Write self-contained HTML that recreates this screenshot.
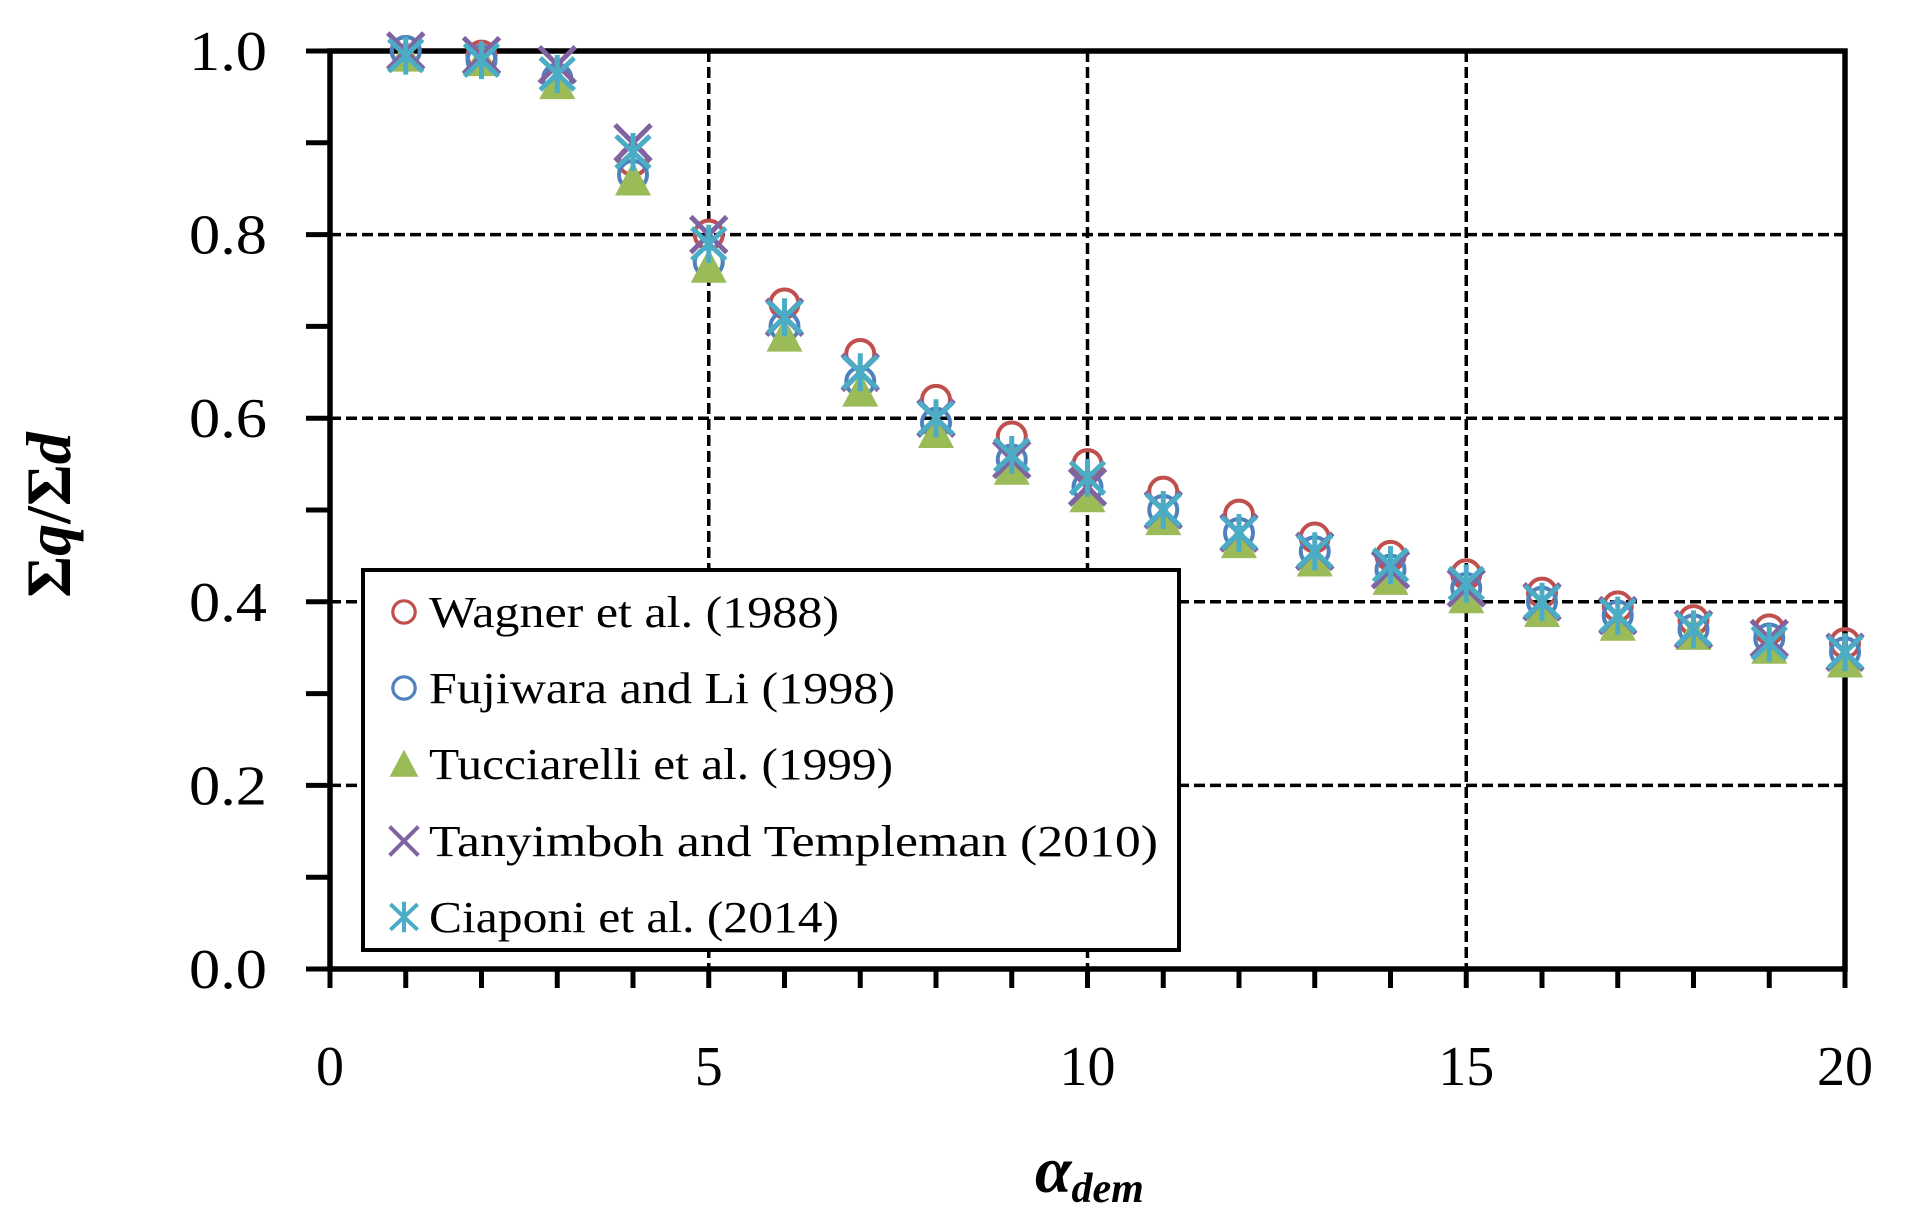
<!DOCTYPE html>
<html><head><meta charset="utf-8"><style>
html,body{margin:0;padding:0;background:#fff;}
svg{display:block;}
text{font-family:"Liberation Serif",serif;fill:#000;}
</style></head><body>
<svg id="chart" width="1912" height="1227" viewBox="0 0 1912 1227" xmlns="http://www.w3.org/2000/svg">
<g id="grid"></g>
<g id="axes"></g>
<g id="marks"></g>
<g id="legend"></g>
<text x="1035" y="1192" font-size="66" font-weight="bold" font-style="italic">α<tspan font-size="42" dy="10">dem</tspan></text>
<text transform="translate(70,515) rotate(-90)" text-anchor="middle" font-size="64" font-weight="bold"><tspan>Σ</tspan><tspan font-style="italic">q</tspan><tspan>/Σ</tspan><tspan font-style="italic">d</tspan></text>
</svg>
<script>
const categories = [1,2,3,4,5,6,7,8,9,10,11,12,13,14,15,16,17,18,19,20];
const wagner = [1.0,0.995,0.97,0.88,0.80,0.725,0.67,0.62,0.58,0.55,0.52,0.495,0.47,0.45,0.43,0.41,0.395,0.38,0.37,0.355];
const fujiwara = [1.0,0.99,0.97,0.865,0.77,0.70,0.64,0.595,0.555,0.525,0.50,0.475,0.455,0.435,0.415,0.40,0.385,0.37,0.36,0.345];
const tucciarelli = [0.995,0.99,0.965,0.86,0.765,0.69,0.63,0.585,0.545,0.515,0.49,0.465,0.445,0.425,0.405,0.39,0.375,0.365,0.35,0.335];
const tanyimboh = [1.0,0.995,0.985,0.90,0.80,0.71,0.65,0.60,0.555,0.525,0.50,0.475,0.455,0.435,0.415,0.40,0.385,0.37,0.36,0.345];
const ciaponi = [0.995,0.99,0.975,0.89,0.79,0.71,0.65,0.60,0.56,0.535,0.50,0.475,0.455,0.44,0.42,0.40,0.385,0.37,0.355,0.345];
const seriesNames = ["Wagner et al. (1988)","Fujiwara and Li (1998)","Tucciarelli et al. (1999)","Tanyimboh and Templeman (2010)","Ciaponi et al. (2014)"];
const xTicks = [0,5,10,15,20];
const yTicks = [0.0,0.2,0.4,0.6,0.8,1.0];

const X0=330,X1=1845,Y0=969,Y1=51;
function xs(v){return X0+(v-0)/(20-0)*(X1-X0);}
function ys(v){return Y0-(v-0)/(1-0)*(Y0-Y1);}
const NS="http://www.w3.org/2000/svg";
function mk(tag,attrs,parent){const e=document.createElementNS(NS,tag);for(const k in attrs)e.setAttribute(k,attrs[k]);parent.appendChild(e);return e;}
const grid=document.getElementById('grid'),axes=document.getElementById('axes'),marks=document.getElementById('marks'),legend=document.getElementById('legend');

yTicks.forEach(v=>{
  if(v>0&&v<1){const l=mk('line',{x1:X0,x2:X1,y1:ys(v),y2:ys(v),stroke:'#000','stroke-width':3.5,'stroke-dasharray':'11 5'},grid);
  
  }
  const t=mk('text',{x:267,y:ys(v)+19,'text-anchor':'end','font-size':56,textLength:78,lengthAdjust:'spacingAndGlyphs'},axes);t.textContent=v.toFixed(1);
  
  
});
xTicks.forEach(v=>{
  if(v>0&&v<20){const l=mk('line',{x1:xs(v),x2:xs(v),y1:Y1,y2:Y0,stroke:'#000','stroke-width':3.5,'stroke-dasharray':'11 5'},grid);
  
  }
  const t=mk('text',{x:xs(v),y:1085,'text-anchor':'middle','font-size':56},axes);t.textContent=v;
  
  
});
for(let i=0;i<=10;i++){const y=ys(i/10);const l=mk('line',{x1:306,x2:X0,y1:y,y2:y,stroke:'#000','stroke-width':5},axes);
  
  }
for(let i=0;i<=20;i++){const x=xs(i);const l=mk('line',{x1:x,x2:x,y1:Y0,y2:988,stroke:'#000','stroke-width':5},axes);
  
  }
const frame=mk('rect',{x:X0,y:Y1,width:X1-X0,height:Y0-Y1,fill:'none',stroke:'#000','stroke-width':5.5},axes);



function marker(type,x,y,g){
  if(type===0) mk('circle',{cx:x,cy:y,r:14,fill:'none',stroke:'#C0504D','stroke-width':4},g);
  if(type===1) mk('circle',{cx:x,cy:y,r:14,fill:'none',stroke:'#4F81BD','stroke-width':4},g);
  if(type===2) mk('polygon',{points:`${x},${y-18} ${x+18},${y+16} ${x-18},${y+16}`,fill:'#9BBB59'},g);
  if(type===3){mk('path',{d:`M${x-18},${y-18}L${x+18},${y+18}M${x+18},${y-18}L${x-18},${y+18}`,stroke:'#8064A2','stroke-width':5,fill:'none'},g);}
  if(type===4){mk('path',{d:`M${x-17},${y-16}L${x+17},${y+16}M${x+17},${y-16}L${x-17},${y+16}M${x},${y-19}L${x},${y+19}`,stroke:'#4BACC6','stroke-width':5,fill:'none'},g);}
}
const allSeries=[wagner,fujiwara,tucciarelli,tanyimboh,ciaponi];
const snames=['wagner','fujiwara','tucciarelli','tanyimboh','ciaponi'];
allSeries.forEach((s,si)=>{
  const g=mk('g',{},marks);
  
  
  s.forEach((v,i)=>{marker(si,xs(categories[i]),ys(v),g);});
});
const lb=mk('rect',{x:363,y:570,width:816,height:380,fill:'#fff',stroke:'#000','stroke-width':4},legend);


const ly=[612,688,764,841,917];
const lw=[410,466,464,729,410];
seriesNames.forEach((n,i)=>{
  const g=mk('g',{},legend);
  
  
  const s=0.8;const gg=mk('g',{transform:`translate(404,${ly[i]}) scale(${s})`},g);
  marker(i,0,0,gg);
  const t=mk('text',{x:429,y:ly[i]+15,'font-size':44,textLength:lw[i],lengthAdjust:'spacingAndGlyphs'},g);t.textContent=n;
});
</script>
</body></html>
